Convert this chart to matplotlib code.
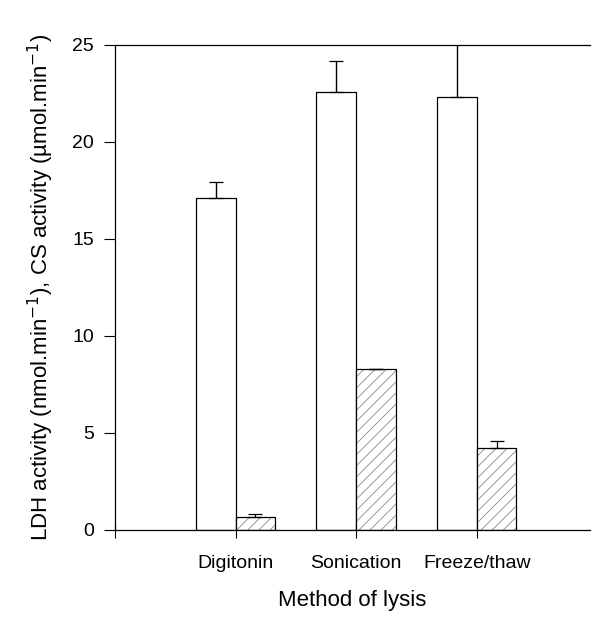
import matplotlib.pyplot as plt
import numpy as np

plt.rcParams['font.family'] = ['Liberation Sans', 'DejaVu Sans']

# categories and values
methods = ["Digitonin", "Sonication", "Freeze/thaw"]
ldh = [17.1, 22.55, 22.3]
ldh_err = [0.85, 1.6, 2.9]
cs = [0.65, 8.3, 4.2]
cs_err = [0.15, 0.0, 0.4]

fig = plt.figure(figsize=(5.96, 6.22), dpi=100)
ax = fig.add_axes([0.193, 0.148, 0.797, 0.78])

x = np.arange(1, len(methods) + 1)
w = 0.33

# white LDH bars
ax.bar(x - w / 2, ldh, w, color="white", edgecolor="black", linewidth=0.9, zorder=2)
ax.errorbar(x - w / 2, ldh, yerr=[np.zeros(3), ldh_err], fmt="none", ecolor="black",
            elinewidth=1.0, capsize=5, capthick=0.9, zorder=3)

# hatched CS bars (hatch light grey, outline black)
plt.rcParams['hatch.linewidth'] = 0.6
ax.bar(x + w / 2, cs, w, color="white", edgecolor="#8a8a8a", hatch="///", linewidth=0, zorder=2)
ax.bar(x + w / 2, cs, w, fill=False, edgecolor="black", linewidth=0.9, zorder=3)
ax.errorbar(x + w / 2, cs, yerr=[np.zeros(3), cs_err], fmt="none", ecolor="black",
            elinewidth=0.9, capsize=5, capthick=0.9, zorder=3)

ax.set_xlim(0, 3.94)
ax.set_ylim(0, 25)
ax.set_yticks([0, 5, 10, 15, 20, 25])
ax.set_xticks([0] + list(x))
ax.set_xticklabels([""] + methods, fontsize=14)
ax.tick_params(axis="y", direction="out", length=8, width=0.8, labelsize=14, pad=7)
ax.tick_params(axis="x", direction="inout", length=12, width=0.8, pad=12)

for s in ["left", "bottom", "top"]:
    ax.spines[s].set_linewidth(0.9)
ax.spines["right"].set_visible(False)

ax.set_xlabel("Method of lysis", fontsize=16, labelpad=13)
ax.set_ylabel("LDH activity (nmol.min$^{-1}$), CS activity (\u00b5mol.min$^{-1}$)",
              fontsize=16, labelpad=12)

fig.savefig("out.png", dpi=100)
